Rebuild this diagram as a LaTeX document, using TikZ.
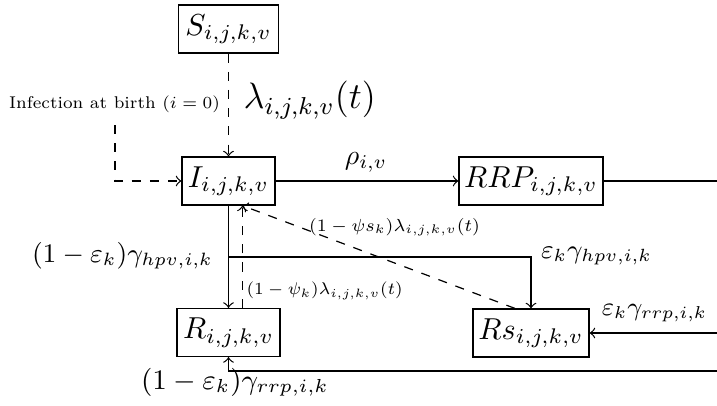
\documentclass[tikz,border=0pt]{standalone}
\usepackage{graphicx}
\newcommand{\fitw}[2]{\resizebox{#1}{!}{#2}}
\begin{document}
\begin{tikzpicture}[x=0.33pt,y=-0.33pt,
  box/.style={draw, minimum height=15.84pt, inner xsep=1.5pt, inner ysep=0pt},
  lab/.style={inner sep=0pt}]
\useasboundingbox (0,0) rectangle (717,406);
% compartments
\node[box, minimum width=33.0pt] (S)   at (228.5,29)  {$S_{i,j,k,v}$};
\node[box, minimum width=30.7pt] (I)   at (228.5,181) {$I_{i,j,k,v}$};
\node[box, minimum width=47.5pt] (RRP) at (531,181)   {$RRP_{i,j,k,v}$};
\node[box, minimum width=34.0pt] (R)   at (228.5,332.5) {$R_{i,j,k,v}$};
\node[box, minimum width=38.3pt] (Rs)  at (531,333)   {$Rs_{i,j,k,v}$};
% helper points
\coordinate (Itip)  at ([xshift=4.6pt]I.south);
\coordinate (Rsrc)  at ([xshift=-5.3pt]Rs.north);
\coordinate (birth) at (115,125);
\coordinate (split) at (228.5,257);
\coordinate (edgeA) at (717,181);
\coordinate (edgeB) at (717,333);
\coordinate (edgeC) at (717,371);
% connectors
\draw[dashed,->] (S.south) -- (I.north);
\draw[dashed,->] (birth) |- (I.west);
\draw[->] (I.east) -- (RRP.west);
\draw (RRP.east) -- (edgeA);
\draw[->] (I.south) -- (R.north);
\draw[dashed,->] (R.north -| Itip) -- (Itip);
\draw[->] (split) -| (Rs.north);
\draw[dashed,->] (Rsrc) -- (Itip);
\draw[->] (edgeB) -- (Rs.east);
\draw[->] (edgeC) -| (R.south);
% labels
\node[lab, anchor=west] (lam) at (243,100) {\fitw{43.6pt}{\large$\lambda_{i,j,k,v}(t)$}};
\node[lab] (inf) at (114.5,104) {\fitw{69.6pt}{\scriptsize Infection at birth ($i=0$)}};
\node[lab] (rho) at (366,162) {\fitw{13.9pt}{$\rho_{i,v}$}};
\node[lab] (lhpv) at (122.5,256) {\fitw{59.7pt}{\small$(1-\varepsilon_k)\gamma_{hpv,i,k}$}};
\node[lab] (rhpv) at (596.5,256) {\fitw{36.6pt}{\small$\varepsilon_k\gamma_{hpv,i,k}$}};
\node[lab, anchor=west] (psi) at (246,291) {\fitw{51.5pt}{\scriptsize$(1-\psi_k)\lambda_{i,j,k,v}(t)$}};
\node[lab] (psis) at (394.5,227) {\fitw{56.4pt}{\scriptsize$(1-\psi s_k)\lambda_{i,j,k,v}(t)$}};
\node[lab] (rrrp) at (654.5,313.5) {\fitw{34.7pt}{\small$\varepsilon_k\gamma_{rrp,i,k}$}};
\node[lab] (lrrp) at (235,382.5) {\fitw{62pt}{\small$(1-\varepsilon_k)\gamma_{rrp,i,k}$}};
\end{tikzpicture}
\end{document}
